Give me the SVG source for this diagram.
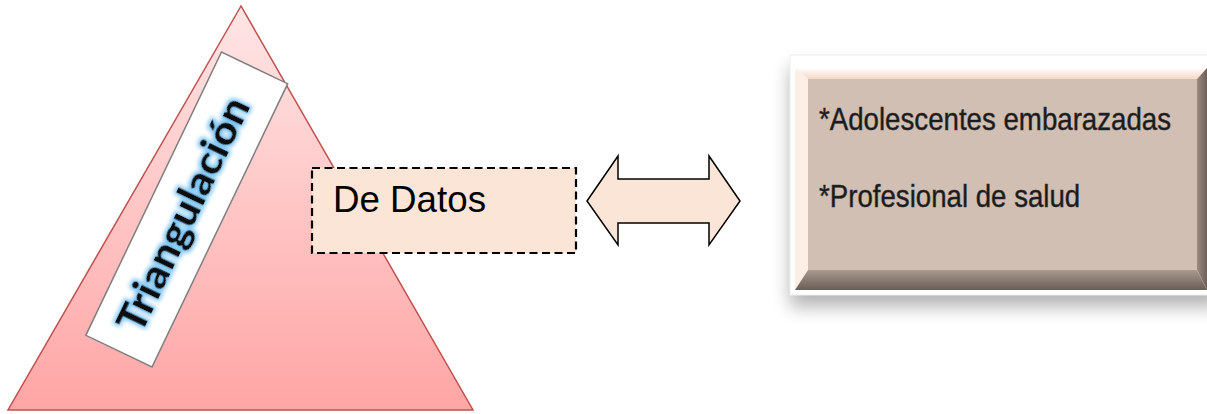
<svg xmlns="http://www.w3.org/2000/svg" width="1207" height="414" viewBox="0 0 1207 414">
<style>
.tri{stroke:#c0504d;stroke-width:1.5}
.lbl{fill:#000;font-family:"Liberation Sans",Arial,sans-serif}
.dash{fill:#fbe5d6;stroke:#000;stroke-width:2.2;stroke-dasharray:8,4.5}
.item{font-family:"Liberation Sans",Arial,sans-serif;font-size:32px;fill:#1a1a1a;stroke:#333;stroke-width:0.5}
</style>
<defs>
<linearGradient id="triG" x1="0" y1="0" x2="0" y2="1">
<stop offset="0" stop-color="#ffe6e6"/>
<stop offset="1" stop-color="#ffa5a5"/>
</linearGradient>
<linearGradient id="topB" x1="0" y1="0" x2="0" y2="1">
<stop offset="0" stop-color="#ffffff"/>
<stop offset="1" stop-color="#f6d6c6"/>
</linearGradient>
<linearGradient id="botB" x1="0" y1="0" x2="0" y2="1">
<stop offset="0" stop-color="#a99a90"/>
<stop offset="1" stop-color="#6a5d55"/>
</linearGradient>
<linearGradient id="rgtB" x1="0" y1="0" x2="1" y2="0">
<stop offset="0" stop-color="#9a8a80"/>
<stop offset="1" stop-color="#6e6058"/>
</linearGradient>
<filter id="glow" x="-20%" y="-50%" width="140%" height="200%">
<feMorphology in="SourceAlpha" operator="dilate" radius="1.5" result="d"/>
<feGaussianBlur in="d" stdDeviation="2" result="b"/>
<feFlood flood-color="#7cc4f2"/>
<feComposite in2="b" operator="in" result="g"/>
<feMerge><feMergeNode in="g"/><feMergeNode in="SourceGraphic"/></feMerge>
</filter>
<filter id="shadow" x="-10%" y="-20%" width="120%" height="150%">
<feGaussianBlur in="SourceAlpha" stdDeviation="9"/>
<feOffset dx="0" dy="12" result="o"/>
<feComponentTransfer><feFuncA type="linear" slope="0.3"/></feComponentTransfer>
<feMerge><feMergeNode/><feMergeNode in="SourceGraphic"/></feMerge>
</filter>
</defs>

<g id="triangulo">
<polygon class="tri" points="241,6 8,410 473,410" fill="url(#triG)"/>
</g>

<g id="triangulacion">
<g transform="translate(186.75,209.5) rotate(-64.4)">
<rect x="-157" y="-36.7" width="314" height="73.4" fill="#fff" stroke="#7f7f7f" stroke-width="1.5"/>
<text x="-6" y="13" text-anchor="middle" font-family="Lato,'Open Sans',sans-serif" font-weight="900" font-size="40" textLength="255" lengthAdjust="spacingAndGlyphs" fill="#111" filter="url(#glow)">Triangulación</text>
</g>
</g>

<g id="de-datos">
<rect class="dash" x="312" y="168" width="264" height="85"/>
<text class="lbl" x="333" y="212" font-size="37" textLength="153" lengthAdjust="spacingAndGlyphs">De Datos</text>
</g>

<g id="connectors">
<path d="M587,201 L618,156 L618,179 L709,179 L709,156 L740,201 L709,245 L709,223 L618,223 L618,245 Z" fill="#fbe5d6" stroke="#000" stroke-width="1.5" stroke-linejoin="miter"/>
</g>

<g id="participantes">
<rect x="790" y="55" width="430" height="240" fill="#fff" filter="url(#shadow)"/>
<rect x="790" y="55" width="430" height="240" fill="none" stroke="#eeeeee" stroke-width="1"/>
<rect x="808" y="79" width="389" height="191" fill="#d1bfb3"/>
<polygon points="795,68 1207,68 1197,79 808,79" fill="url(#topB)"/>
<polygon points="795,68 808,79 808,270 795,290" fill="#fdeee6"/>
<polygon points="1207,68 1207,290 1197,270 1197,79" fill="url(#rgtB)"/>
<polygon points="795,290 808,270 1197,270 1207,290" fill="url(#botB)"/>
<text class="item" transform="translate(819,130) scale(0.865,1)" x="0" y="0" textLength="407" lengthAdjust="spacingAndGlyphs">*Adolescentes embarazadas</text>
<text class="item" transform="translate(819,207) scale(0.865,1)" x="0" y="0" textLength="302" lengthAdjust="spacingAndGlyphs">*Profesional de salud</text>
</g>
</svg>
